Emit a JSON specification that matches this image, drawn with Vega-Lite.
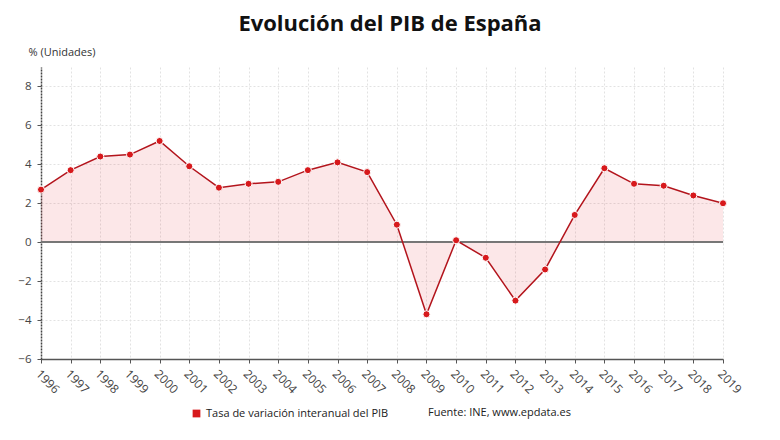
{
  "$schema": "https://vega.github.io/schema/vega-lite/v6.json",
  "autosize": {"type": "none"},
  "padding": {"left": 41, "top": 67, "right": 57, "bottom": 81},
  "width": 682,
  "height": 292,
  "background": "white",
  "config": {
    "font": "Open Sans",
    "view": {"stroke": null}
  },
  "title": {
    "text": "Evolución del PIB de España",
    "font": "Open Sans",
    "fontSize": 22,
    "fontWeight": "bold",
    "color": "#111111",
    "anchor": "middle",
    "dx": 8,
    "offset": 10
  },
  "data": {
    "values": [
      {"year": 1996, "v": 2.7},
      {"year": 1997, "v": 3.7},
      {"year": 1998, "v": 4.4},
      {"year": 1999, "v": 4.5},
      {"year": 2000, "v": 5.2},
      {"year": 2001, "v": 3.9},
      {"year": 2002, "v": 2.8},
      {"year": 2003, "v": 3.0},
      {"year": 2004, "v": 3.1},
      {"year": 2005, "v": 3.7},
      {"year": 2006, "v": 4.1},
      {"year": 2007, "v": 3.6},
      {"year": 2008, "v": 0.9},
      {"year": 2009, "v": -3.7},
      {"year": 2010, "v": 0.1},
      {"year": 2011, "v": -0.8},
      {"year": 2012, "v": -3.0},
      {"year": 2013, "v": -1.4},
      {"year": 2014, "v": 1.4},
      {"year": 2015, "v": 3.8},
      {"year": 2016, "v": 3.0},
      {"year": 2017, "v": 2.9},
      {"year": 2018, "v": 2.4},
      {"year": 2019, "v": 2.0}
    ]
  },
  "encoding": {
    "x": {
      "field": "year",
      "type": "ordinal",
      "scale": {"type": "point", "padding": 0},
      "axis": {
        "title": null,
        "labelAngle": 45,
        "labelFontSize": 12,
        "labelColor": "#444444",
        "domainColor": "#555555",
        "domainWidth": 1.5,
        "tickColor": "#555555",
        "tickSize": 4,
        "labelPadding": 5,
        "grid": true,
        "gridColor": "#e2e2e2",
        "gridDash": [2, 2]
      }
    },
    "y": {
      "field": "v",
      "type": "quantitative",
      "scale": {"domain": [-6, 9], "nice": false},
      "axis": {
        "values": [-6, -4, -2, 0, 2, 4, 6, 8],
        "title": "% (Unidades)",
        "titleAngle": 0,
        "titleAlign": "left",
        "titleBaseline": "bottom",
        "titleX": -13,
        "titleY": -10,
        "titleFontSize": 11,
        "titleFontWeight": "normal",
        "titleColor": "#333333",
        "labelFontSize": 11.5,
        "labelColor": "#444444",
        "labelPadding": 6,
        "domainColor": "#444444",
        "domainWidth": 1.5,
        "domainDash": [2, 1],
        "tickColor": "#555555",
        "tickSize": 4,
        "grid": true,
        "gridColor": "#e2e2e2",
        "gridDash": [2, 2]
      }
    }
  },
  "layer": [
    {
      "mark": {"type": "area", "color": "#e8202a", "fillOpacity": 0.11},
      "encoding": {"y2": {"datum": 0}}
    },
    {
      "mark": {"type": "rule", "color": "#777777", "strokeWidth": 1.5},
      "encoding": {"x": null, "y": {"datum": 0}}
    },
    {
      "mark": {"type": "line", "color": "#b3141c", "strokeWidth": 1.5}
    },
    {
      "mark": {"type": "point", "filled": true, "size": 50, "stroke": "white", "strokeWidth": 1, "opacity": 1},
      "encoding": {
        "color": {
          "datum": "Tasa de variación interanual del PIB",
          "scale": {"range": ["#d7191c"]},
          "legend": {
            "orient": "none",
            "legendX": 150,
            "legendY": 341,
            "direction": "horizontal",
            "title": "Fuente: INE, www.epdata.es",
            "titleOrient": "right",
            "titleFontWeight": "normal",
            "titleFontSize": 11,
            "titleColor": "#222222",
            "titlePadding": 40,
            "labelFontSize": 11,
            "labelColor": "#222222",
            "labelLimit": 0,
            "symbolType": "square",
            "symbolSize": 60,
            "symbolStrokeWidth": 0
          }
        }
      }
    }
  ]
}
